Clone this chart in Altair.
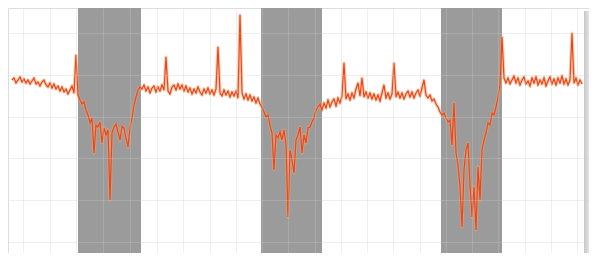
import altair as alt
import pandas as pd

# Signal trace (sample index -> reading, reading grows downward on the inverted axis)
seg_a_start = 12
seg_a = [80, 78, 83, 80, 77, 82, 79, 83, 80, 84, 81, 78, 84, 82, 86, 82, 80, 85, 87, 83,
         88, 84, 89, 86, 91, 87, 92, 89, 94, 90, 86, 93, 55]
seg_b1_start = 78
seg_b1 = [95, 100, 104, 102, 110, 115, 123, 118, 153, 125, 127, 122, 143, 128, 135, 130,
          200, 133, 127, 124, 132, 140, 126, 128, 138, 147, 128, 118, 105, 97, 90, 87]
seg_b_start = 142
seg_b = [89, 85, 91, 87, 93, 88, 86, 92, 87, 91, 85, 90, 57, 91, 94, 87, 85, 90, 84, 89,
         85, 91, 86, 92, 88, 94, 89, 93, 87, 92, 95, 89, 93, 88, 94, 90, 95, 89, 47, 93,
         96, 90, 95, 91, 97, 92, 96, 91, 98, 15, 93, 99, 94, 100, 95, 101, 97, 103, 98, 104]
seg_b2_start = 262
seg_b2 = [107, 112, 117, 115, 125, 133, 170, 135, 138, 132, 140, 130, 145, 217, 150, 160,
          173, 140, 135, 127, 153, 135, 143, 128, 127, 122, 118, 110, 107, 104]
seg_c_start = 322
seg_c = [110, 103, 108, 100, 107, 102, 99, 106, 98, 103, 96, 63, 99, 94, 100, 93, 98, 89,
         83, 96, 78, 97, 92, 98, 93, 99, 94, 100, 95, 101, 93, 85, 98, 93, 99, 94, 63, 97,
         92, 98, 93, 99, 94, 91, 97, 92, 98, 93, 90, 96, 88, 80, 95, 98, 95, 101, 99, 104,
         107, 112]
seg_b3_start = 442
seg_b3 = [115, 113, 118, 122, 120, 145, 103, 153, 165, 187, 227, 170, 150, 143, 185, 217,
          187, 230, 167, 200, 150, 140, 133, 123, 125, 113, 115, 107, 97, 85, 37]
seg_d_start = 504
seg_d = [78, 83, 78, 84, 80, 76, 83, 78, 85, 80, 77, 84, 81, 86, 78, 83, 77, 85, 80, 84,
         78, 86, 81, 77, 84, 79, 85, 78, 83, 76, 84, 79, 85, 80, 33, 83, 78, 85, 80, 84]

# Shaded event windows (start, end sample)
band_start = [78, 261, 441]
band_end = [141, 322, 502]

# Grid tick positions
grid_x = [23, 50, 76, 103, 130, 157, 183, 210, 236, 262, 288, 315, 341, 367, 393, 420,
          446, 472, 498, 525, 551, 577]
grid_y = [33, 75, 117, 158, 200, 242]

segments = [(seg_a_start, seg_a), (seg_b1_start, seg_b1), (seg_b_start, seg_b),
            (seg_b2_start, seg_b2), (seg_c_start, seg_c), (seg_b3_start, seg_b3),
            (seg_d_start, seg_d)]
rows = []
for start, ys in segments:
    for i, v in enumerate(ys):
        rows.append({"t": start + 2 * i, "v": v})
df = pd.DataFrame(rows)
bands = pd.DataFrame({"s": band_start, "e": band_end})

W, H = 581, 245
xs = alt.Scale(domain=[8, 589], nice=False, zero=False)
ys_ = alt.Scale(domain=[8, 253], nice=False, zero=False, reverse=True)

xaxis = alt.Axis(values=grid_x, labels=False, ticks=False, domain=False, title=None,
                 grid=True, gridColor="#cacaca", gridOpacity=0.3, zindex=1)
yaxis = alt.Axis(values=grid_y, labels=False, ticks=False, domain=False, title=None,
                 grid=True, gridColor="#cacaca", gridOpacity=0.3, zindex=1)

band_layer = alt.Chart(bands).mark_rect(color="#9b9b9b").encode(
    x=alt.X("s:Q", scale=xs, axis=xaxis),
    x2="e:Q",
    y=alt.value(0),
    y2=alt.value(H),
)

glow = alt.Chart(df).mark_line(color="#f5a067", strokeWidth=3.2, opacity=0.55,
                               strokeJoin="round").encode(
    x=alt.X("t:Q", scale=xs, axis=xaxis),
    y=alt.Y("v:Q", scale=ys_, axis=yaxis),
)
line = alt.Chart(df).mark_line(color="#e8471f", strokeWidth=1.2).encode(
    x=alt.X("t:Q", scale=xs, axis=xaxis),
    y=alt.Y("v:Q", scale=ys_, axis=yaxis),
)

shadow = alt.Chart(bands).mark_rect(
    color=alt.LinearGradient(
        gradient="linear",
        stops=[alt.GradientStop(color="#c6c6c6", offset=0),
               alt.GradientStop(color="#e4e4e4", offset=1)],
        x1=0, x2=1, y1=0, y2=0,
    )
).encode(
    x=alt.value(576), x2=alt.value(W), y=alt.value(3), y2=alt.value(H),
)

chart = alt.layer(band_layer, glow, line, shadow).properties(
    width=W, height=H,
    autosize=alt.AutoSizeParams(type="fit", contains="padding"),
    padding=0,
).configure_view(stroke=None).configure(background="white")

chart.save("out.html", embed_options={"renderer": "svg", "actions": False})
